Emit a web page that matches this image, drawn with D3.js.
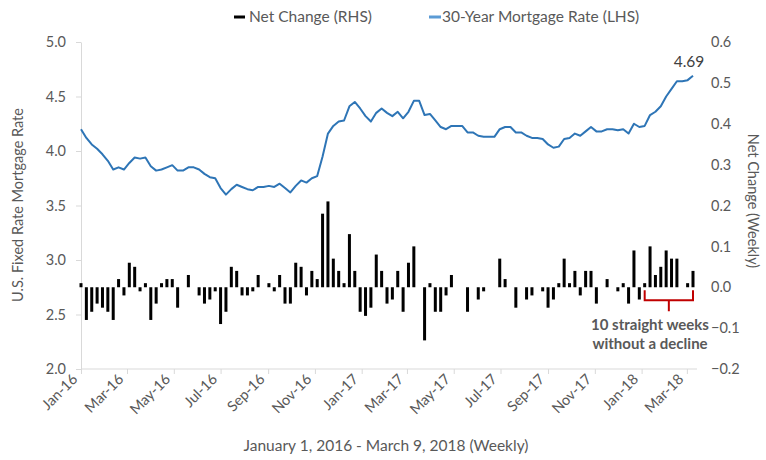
<!DOCTYPE html>
<html><head><meta charset="utf-8">
<script src="https://cdn.jsdelivr.net/npm/d3@7"></script>
<style>
body{margin:0;background:#fff;}
svg text{font-family:Lato,"Open Sans",sans-serif;}
</style></head>
<body><svg id="c" width="766" height="460"></svg>
<script>
// ---- data ----
const startDate = new Date(2016, 0, 1);
const endDate = new Date(2018, 2, 9);
const rate = [4.20,4.12,4.06,4.02,3.97,3.91,3.83,3.85,3.83,3.89,3.94,3.93,3.94,3.86,3.82,3.83,3.85,3.87,3.82,3.82,
3.85,3.85,3.83,3.79,3.76,3.75,3.66,3.60,3.65,3.69,3.67,3.65,3.64,3.67,3.67,3.68,3.67,3.70,3.66,3.62,
3.68,3.73,3.71,3.75,3.77,3.95,4.16,4.23,4.27,4.28,4.41,4.45,4.39,4.32,4.27,4.35,4.39,4.35,4.32,4.36,
4.30,4.36,4.46,4.46,4.33,4.34,4.28,4.22,4.20,4.23,4.23,4.23,4.17,4.17,4.14,4.13,4.13,4.13,4.20,4.22,
4.22,4.17,4.17,4.14,4.12,4.12,4.11,4.06,4.03,4.04,4.11,4.12,4.16,4.14,4.18,4.22,4.18,4.18,4.20,4.20,
4.19,4.20,4.16,4.25,4.22,4.23,4.33,4.36,4.41,4.50,4.57,4.64,4.64,4.65,4.69];
const netChange = [0.01,-0.08,-0.06,-0.04,-0.05,-0.06,-0.08,0.02,-0.02,0.06,0.05,-0.01,0.01,-0.08,-0.04,0.01,0.02,0.02,-0.05,0,
0.03,0,-0.02,-0.04,-0.03,-0.01,-0.09,-0.06,0.05,0.04,-0.02,-0.02,-0.01,0.03,0,0.01,-0.01,0.03,-0.04,-0.04,
0.06,0.05,-0.02,0.04,0.02,0.18,0.21,0.07,0.04,0.01,0.13,0.04,-0.06,-0.07,-0.05,0.08,0.04,-0.04,-0.03,0.04,
-0.06,0.06,0.10,0,-0.13,0.01,-0.06,-0.06,-0.02,0.03,0,0,-0.06,0,-0.03,-0.01,0,0,0.07,0.02,
0,-0.05,0,-0.03,-0.02,0,-0.01,-0.05,-0.03,0.01,0.07,0.01,0.04,-0.02,0.04,0.04,-0.04,0,0.02,0,
-0.01,0.01,-0.04,0.09,-0.03,0.01,0.10,0.03,0.05,0.09,0.07,0.07,0,0.01,0.04];
const leftTicks = [2.0,2.5,3.0,3.5,4.0,4.5,5.0];
const rightTicks = [-0.2,-0.1,0.0,0.1,0.2,0.3,0.4,0.5,0.6];
const seriesNames = ["Net Change (RHS)", "30-Year Mortgage Rate (LHS)"];
const dates = d3.timeDay.range(startDate, new Date(2018, 2, 10), 7);
const streakStart = 105, streakEnd = 114;

// ---- layout ----
const svg = d3.select("#c");
const L = 81, R = 693, T = 42, B = 369, axisEnd = 697;
const x = d3.scaleTime().domain([startDate, endDate]).range([L, R]);
const yL = d3.scaleLinear().domain([2, 5]).range([B, T]);
const yR = d3.scaleLinear().domain([-0.2, 0.6]).range([B, T]);
const grey = "#d9d9d9", txt = "#595959";

// x axis
const xAxis = d3.axisBottom(x).tickValues(d3.timeMonth.every(2).range(startDate, new Date(2018, 2, 2)))
  .tickSize(5).tickSizeOuter(0).tickFormat(d3.timeFormat("%b-%y"));
const gx = svg.append("g").attr("transform", `translate(0,${B})`).call(xAxis);
gx.select(".domain").remove();
gx.append("line").attr("x1", L).attr("x2", axisEnd).attr("stroke", grey);
gx.selectAll(".tick line").attr("stroke", grey);
gx.selectAll(".tick text").attr("fill", txt).attr("font-size", 14.5)
  .attr("text-anchor", "end").attr("dy", 0).attr("y", 0)
  .attr("transform", "translate(-3,11) rotate(-45)");

// left axis
const gl = svg.append("g").attr("transform", `translate(${L},0)`)
  .call(d3.axisLeft(yL).tickValues(leftTicks).tickFormat(d3.format(".1f")).tickSize(5).tickSizeOuter(0));
gl.select(".domain").attr("stroke", grey);
gl.selectAll(".tick line").attr("stroke", grey);
gl.selectAll(".tick text").attr("fill", txt).attr("font-size", 14.5).attr("x", -15);

// right axis (labels only)
const gr = svg.append("g").attr("transform", `translate(${axisEnd},0)`)
  .call(d3.axisRight(yR).tickValues(rightTicks).tickFormat(d3.format(".1f")).tickSize(0).tickSizeOuter(0));
gr.select(".domain").remove();
gr.selectAll(".tick text").attr("fill", txt).attr("font-size", 14.5).attr("x", 14);

// bars
svg.append("g").selectAll("rect").data(netChange).join("rect")
  .attr("x", (d, i) => x(dates[i]) - 1.5).attr("width", 3)
  .attr("y", d => yR(Math.max(0, d))).attr("height", d => Math.abs(yR(d) - yR(0)))
  .attr("fill", "#000");

// line
svg.append("path").datum(rate)
  .attr("d", d3.line().x((d, i) => x(dates[i])).y(d => yL(d)))
  .attr("fill", "none").attr("stroke", "#2e75b6").attr("stroke-width", 2).attr("stroke-linejoin", "round");

// data label
svg.append("text").attr("x", x(dates[rate.length - 1]) - 4).attr("y", yL(rate[rate.length - 1]) - 9)
  .attr("text-anchor", "middle").attr("fill", "#404040").attr("font-size", 15.5).text(rate[rate.length - 1].toFixed(2));

// annotation bracket
const bx1 = x(dates[streakStart]), bx2 = x(dates[streakEnd]), by = yR(0) + 13;
const bm = (bx1 + bx2) / 2;
svg.append("path").attr("d", `M${bx1},${yR(0) + 3}V${by}H${bx2}V${yR(0) + 3}M${bm},${by}V${by + 11}`)
  .attr("fill", "none").attr("stroke", "#c00000").attr("stroke-width", 2);
const ann = svg.append("text").attr("text-anchor", "middle").attr("fill", txt)
  .attr("font-size", 15).attr("font-weight", "bold");
ann.append("tspan").attr("x", 650).attr("y", 330).text("10 straight weeks");
ann.append("tspan").attr("x", 650).attr("y", 349).text("without a decline");

// axis titles
svg.append("text").attr("transform", "translate(23,205) rotate(-90)").attr("text-anchor", "middle")
  .attr("fill", txt).attr("font-size", 14.5).text("U.S. Fixed Rate Mortgage Rate");
svg.append("text").attr("transform", "translate(748,201) rotate(90)").attr("text-anchor", "middle")
  .attr("fill", txt).attr("font-size", 14.5).text("Net Change (Weekly)");
svg.append("text").attr("x", 386).attr("y", 451).attr("text-anchor", "middle")
  .attr("fill", txt).attr("font-size", 15.5).text("January 1, 2016 - March 9, 2018 (Weekly)");

// legend
const lg = svg.append("g");
lg.append("line").attr("x1", 234).attr("x2", 245).attr("y1", 17).attr("y2", 17).attr("stroke", "#000").attr("stroke-width", 3);
lg.append("text").attr("x", 249).attr("y", 22).attr("fill", txt).attr("font-size", 15.5).text(seriesNames[0]);
lg.append("line").attr("x1", 429).attr("x2", 441).attr("y1", 17).attr("y2", 17).attr("stroke", "#5b9bd5").attr("stroke-width", 3);
lg.append("text").attr("x", 442).attr("y", 22).attr("fill", txt).attr("font-size", 15.5).text(seriesNames[1]);
</script></body></html>
